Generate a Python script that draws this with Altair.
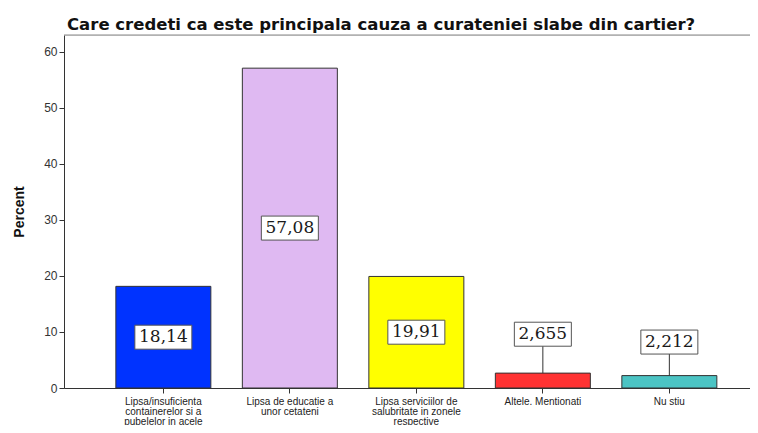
import altair as alt
import pandas as pd

categories = [
    "Lipsa/insuficienta\ncontainerelor si a\npubelelor in acele\nzone",
    "Lipsa de educatie a\nunor cetateni",
    "Lipsa serviciilor de\nsalubritate in zonele\nrespective",
    "Altele. Mentionati",
    "Nu stiu",
]
values = [18.14, 57.08, 19.91, 2.655, 2.212]
label_texts = ["18,14", "57,08", "19,91", "2,655", "2,212"]
label_anchor = [9.07, 28.54, 9.96, 9.6, 8.2]
colors = ["#0033ff", "#dfb9f2", "#ffff00", "#ff3333", "#4bc4c4"]

df = pd.DataFrame({
    "cat": categories,
    "value": values,
    "label": label_texts,
    "ly": label_anchor,
})

W, H = 686, 353

x = alt.X("cat:N", sort=categories,
          scale=alt.Scale(type="band", paddingInner=0.249, paddingOuter=0.336, align=0.61),
          axis=alt.Axis(title=None, labelAngle=0, labelExpr="split(datum.label, '\\n')",
                        labelFontSize=10, labelLineHeight=10, labelColor="#222",
                        labelFont="Liberation Sans", labelPadding=3, labelLimit=0,
                        tickSize=5, tickColor="#333", domainColor="#333"))
y = alt.Y("value:Q", scale=alt.Scale(domain=[0, 63], nice=False),
          axis=alt.Axis(title="Percent", values=[0, 10, 20, 30, 40, 50, 60], grid=False,
                        labelFontSize=12, labelColor="#333", labelFont="Liberation Sans",
                        tickSize=5, tickColor="#333", domainColor="#333", labelPadding=2,
                        titleFont="Liberation Sans", titleFontSize=14, titleFontWeight="bold",
                        titleColor="#111", titlePadding=17))

base = alt.Chart(df)

bars = base.mark_bar(stroke="#333", strokeWidth=1).encode(
    x=x, y=y,
    color=alt.Color("cat:N", scale=alt.Scale(domain=categories, range=colors), legend=None),
)

leaders = base.transform_filter("datum.ly > datum.value").mark_rule(color="#333", strokeWidth=1).encode(
    x=alt.X("cat:N", sort=categories), y="value:Q", y2="ly:Q"
)

box_path = "M-1,-0.421H1V0.421H-1Z"
boxes = base.mark_point(shape=box_path, size=3249, filled=True, fill="white",
                        stroke="#555", strokeWidth=1, opacity=1).encode(
    x=alt.X("cat:N", sort=categories), y=alt.Y("ly:Q")
)

texts = base.mark_text(font="DejaVu Serif", fontSize=17, color="#1a1a1a").encode(
    x=alt.X("cat:N", sort=categories), y=alt.Y("ly:Q"), text="label:N"
)

topline = alt.Chart(pd.DataFrame({"a": [0]})).mark_rule(color="#888", strokeWidth=1).encode(
    x=alt.value(0), x2=alt.value(W), y=alt.value(0)
)

chart = alt.layer(bars, leaders, boxes, texts, topline).properties(
    width=W, height=H,
    autosize=alt.AutoSizeParams(type="none"),
    padding={"left": 56, "top": 27, "right": 0, "bottom": 37},
    title=alt.TitleParams(
        "Care credeti ca este principala cauza a curateniei slabe din cartier?",
        anchor="start", frame="group", font="DejaVu Sans", fontSize=16.5,
        fontWeight="bold", color="#111", dx=3, offset=1,
    ),
).configure_view(fill="#f0f0f0", stroke=None).configure(background="white")

chart.save("out.html", embed_options={"renderer": "svg", "actions": False})
